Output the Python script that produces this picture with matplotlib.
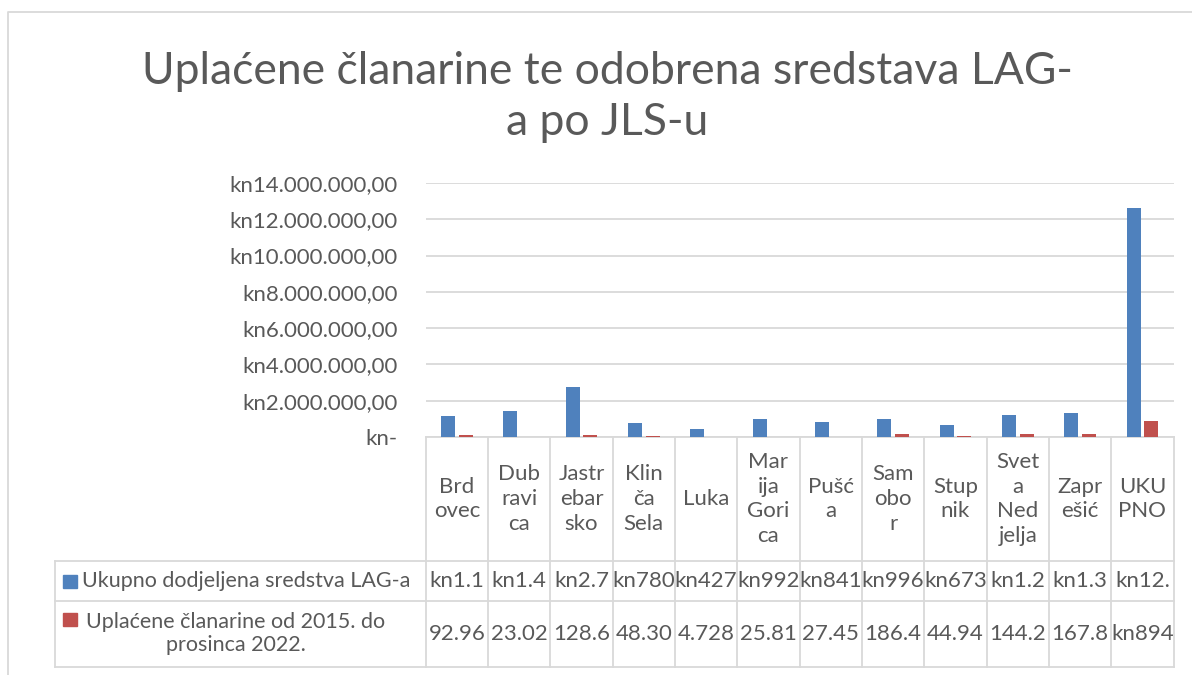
import matplotlib
matplotlib.use("Agg")
import matplotlib.pyplot as plt
from matplotlib.patches import Rectangle
import matplotlib.transforms as mtransforms

# data
categories = ['Brdovec', 'Dubravica', 'Jastrebarsko', 'Klinča Sela', 'Luka', 'Marija Gorica',
              'Pušća', 'Samobor', 'Stupnik', 'Sveta Nedjelja', 'Zaprešić', 'UKUPNO']
header_labels = ['Brd\novec', 'Dub\nravi\nca', 'Jastr\nebar\nsko', 'Klin\nča\nSela', 'Luka',
                 'Mar\nija\nGori\nca', 'Pušć\na', 'Sam\nobo\nr', 'Stup\nnik',
                 'Svet\na\nNed\njelja', 'Zapr\nešić', 'UKU\nPNO']
sredstva = [1155000, 1450000, 2740000, 780000, 427000, 992000, 841000, 996000,
            673000, 1215000, 1330000, 12599000]
clanarine = [92960, 23020, 128600, 48300, 4728, 25810, 27450, 186400,
             44940, 144200, 167800, 894208]
sredstva_txt = ['kn1.1', 'kn1.4', 'kn2.7', 'kn780', 'kn427', 'kn992', 'kn841', 'kn996',
                'kn673', 'kn1.2', 'kn1.3', 'kn12.']
clanarine_txt = ['92.96', '23.02', '128.6', '48.30', '4.728', '25.81', '27.45', '186.4',
                 '44.94', '144.2', '167.8', 'kn894']
series_names = ['Ukupno dodjeljena sredstva LAG-a', 'Uplaćene članarine od 2015. do\nprosinca 2022.']
y_ticks = [0, 2000000, 4000000, 6000000, 8000000, 10000000, 12000000, 14000000]

BLUE = '#4F81BD'
RED = '#C0504D'
TXT = '#595959'
GRID = '#D9D9D9'
FONT = 'Lato'

W, H = 1192, 675
fig = plt.figure(figsize=(W / 100, H / 100), dpi=100)

# pixel overlay for borders / table
ov = fig.add_axes([0, 0, 1, 1])
ov.set_xlim(0, W)
ov.set_ylim(H, 0)
ov.axis('off')

x0, x1, ytop, ybot = 425.7, 1173.6, 182.9, 437.0
ax = fig.add_axes([x0 / W, 1 - ybot / H, (x1 - x0) / W, (ybot - ytop) / H])
ax.patch.set_alpha(0)

pos = list(range(len(categories)))
bw = 0.225
ax.bar([p - 0.14 for p in pos], sredstva, width=bw, color=BLUE, zorder=3)
ax.bar([p + 0.14 for p in pos], clanarine, width=bw, color=RED, zorder=3)
ax.set_xlim(-0.5, len(categories) - 0.5)
ax.set_ylim(0, 14000000)
ax.set_yticks(y_ticks)


def kn(v):
    if v == 0:
        return 'kn-'
    return 'kn' + f'{v:,.2f}'.replace(',', 'X').replace('.', ',').replace('X', '.')


ax.set_yticklabels([kn(v) for v in y_ticks], fontsize=16, color=TXT, family=FONT)
ax.tick_params(axis='y', length=0, pad=20)
ax.set_xticks([])
ax.grid(axis='y', color=GRID, linewidth=1.3, zorder=0)
for s in ['top', 'right', 'left']:
    ax.spines[s].set_visible(False)
ax.spines['bottom'].set_color(GRID)
ax.spines['bottom'].set_linewidth(1.3)

# chart border (left/top visible)
ov.plot([8.3, 8.3, W + 10], [H + 5, 12.3, 12.3], color=GRID, lw=1.3, clip_on=False)

# title
ov.text(607, 97, 'Uplaćene članarine te odobrena sredstava LAG-\na po JLS-u', ha='center',
        va='center', fontsize=32, color=TXT, family=FONT, linespacing=1.3)

# table: x in data, y in pixels
tr = mtransforms.blended_transform_factory(ax.transData, ov.transData)
r0, r1, r2, r3 = ybot, 561.0, 600.5, 667.0
lc = dict(color=GRID, lw=1.3, clip_on=False)
for i in range(len(categories) + 1):
    ov.plot([i - 0.5, i - 0.5], [r0, r3], transform=tr, **lc)
for yy in (r1, r2, r3):
    ov.plot([55, x1], [yy, yy], **lc)
ov.plot([55, 55], [r1, r3], **lc)

for i, p in enumerate(pos):
    ov.text(p, (r0 + r1) / 2, header_labels[i], transform=tr, ha='center', va='center',
            fontsize=16, color=TXT, family=FONT, linespacing=1.3)
    ov.text(p, (r1 + r2) / 2, sredstva_txt[i], transform=tr, ha='center', va='center',
            fontsize=16, color=TXT, family=FONT)
    ov.text(p, (r2 + r3) / 2, clanarine_txt[i], transform=tr, ha='center', va='center',
            fontsize=16, color=TXT, family=FONT)

# legend keys in table
ov.add_patch(Rectangle((63, 575), 13.5, 13, color=BLUE))
ov.text(82, (r1 + r2) / 2, series_names[0], ha='left', va='center', fontsize=15.5,
        color=TXT, family=FONT)
ov.add_patch(Rectangle((63, 613), 13.5, 13, color=RED))
ov.text(236, (r2 + r3) / 2, series_names[1], ha='center', va='center', fontsize=15.5,
        color=TXT, family=FONT, linespacing=1.2, multialignment='center')

fig.savefig('out.png', dpi=100)
